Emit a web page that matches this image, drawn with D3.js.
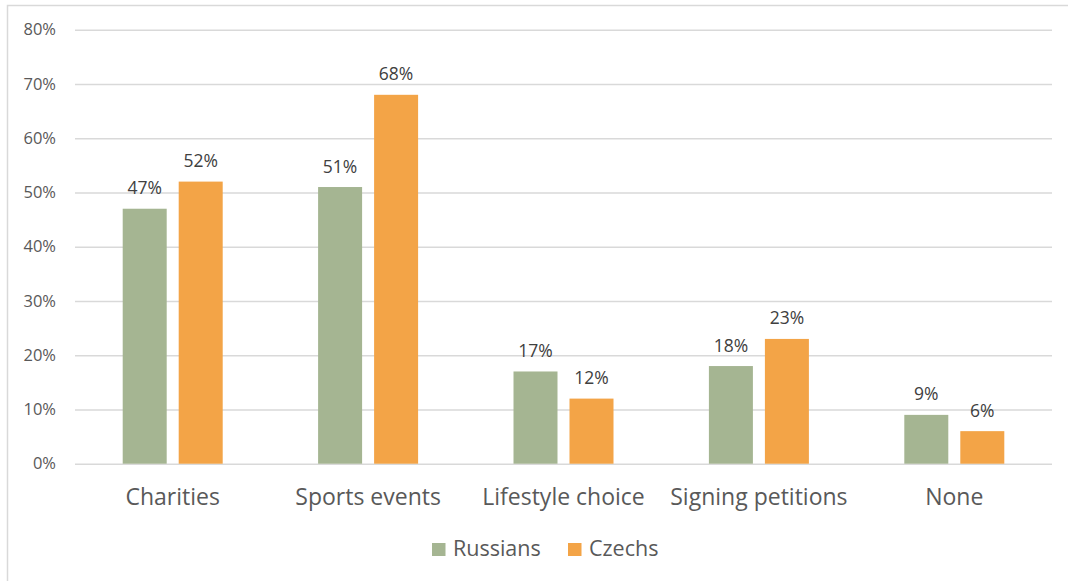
<!DOCTYPE html>
<html>
<head>
<meta charset="utf-8">
<script src="https://cdn.jsdelivr.net/npm/d3@7/dist/d3.min.js"></script>
<style>
  html, body { margin: 0; padding: 0; background: #fff; }
  svg { display: block; font-family: "Open Sans", sans-serif; }
</style>
</head>
<body>
<svg id="chart" width="1068" height="581"></svg>
<script>
// Share of respondents per activity type
const categories = ["Charities", "Sports events", "Lifestyle choice", "Signing petitions", "None"];
const seriesNames = ["Russians", "Czechs"];
const russians = [47, 51, 17, 18, 9];
const czechs = [52, 68, 12, 23, 6];
const yTicks = [0, 10, 20, 30, 40, 50, 60, 70, 80];
const colors = ["#A5B592", "#F3A447"];

const seriesValues = [russians, czechs];
const rows = categories.map((c, i) => ({
  category: c,
  values: seriesNames.map((s, j) => ({ series: s, value: seriesValues[j][i] }))
}));

const svg = d3.select("#chart");
const plotLeft = 75, plotRight = 1052, plotTop = 29.7, plotBottom = 463.7;
const fontFamily = "'Open Sans', sans-serif";

// chart frame
svg.append("rect")
  .attr("x", 7.5).attr("y", 5.5)
  .attr("width", 1070).attr("height", 590)
  .attr("fill", "none").attr("stroke", "#d9d9d9").attr("stroke-width", 1.5);

const y = d3.scaleLinear().domain([0, 80]).range([plotBottom, plotTop]);
const x0 = d3.scaleBand().domain(categories).range([plotLeft, plotRight]).padding(0);
const groupW = 100;
const x1 = d3.scaleBand().domain(seriesNames).range([0, groupW]).paddingInner(12 / 56).paddingOuter(0);
const color = d3.scaleOrdinal().domain(seriesNames).range(colors);

// gridlines + y labels
const yAxis = d3.axisLeft(y).tickValues(yTicks).tickFormat(d => d + "%")
  .tickSize(-(plotRight - plotLeft)).tickPadding(19);
const gy = svg.append("g").attr("transform", `translate(${plotLeft},0)`).call(yAxis);
gy.select(".domain").remove();
gy.selectAll(".tick line").attr("stroke", "#d9d9d9").attr("stroke-width", 1.5);
gy.selectAll(".tick text").attr("fill", "#595959").attr("font-size", 16.5)
  .attr("font-family", fontFamily);

// bars
const groups = svg.append("g").selectAll("g").data(rows).join("g")
  .attr("transform", d => `translate(${x0(d.category) + (x0.bandwidth() - groupW) / 2},0)`);

groups.selectAll("rect").data(d => d.values).join("rect")
  .attr("x", d => x1(d.series))
  .attr("width", x1.bandwidth())
  .attr("y", d => y(d.value))
  .attr("height", d => y(0) - y(d.value))
  .attr("fill", d => color(d.series));

groups.selectAll("text").data(d => d.values).join("text")
  .attr("x", d => x1(d.series) + x1.bandwidth() / 2)
  .attr("y", d => y(d.value) - 14.5)
  .attr("text-anchor", "middle")
  .attr("fill", "#404040")
  .attr("font-size", 17.5)
  .text(d => d.value + "%");

// category labels
const xAxis = d3.axisBottom(x0).tickSize(0).tickPadding(25);
const gx = svg.append("g").attr("transform", `translate(0,${plotBottom})`).call(xAxis);
gx.select(".domain").remove();
gx.selectAll(".tick text").attr("fill", "#595959").attr("font-size", 23)
  .attr("font-family", fontFamily);

// legend
const legendItems = [{ name: "Russians", x: 432 }, { name: "Czechs", x: 568 }];
const lg = svg.append("g").selectAll("g").data(legendItems).join("g")
  .attr("transform", d => `translate(${d.x},543)`);
lg.append("rect").attr("width", 13.5).attr("height", 13).attr("fill", d => color(d.name));
lg.append("text").attr("x", 21).attr("y", 13.3)
  .attr("fill", "#595959").attr("font-size", 21.5).text(d => d.name);
</script>
</body>
</html>
